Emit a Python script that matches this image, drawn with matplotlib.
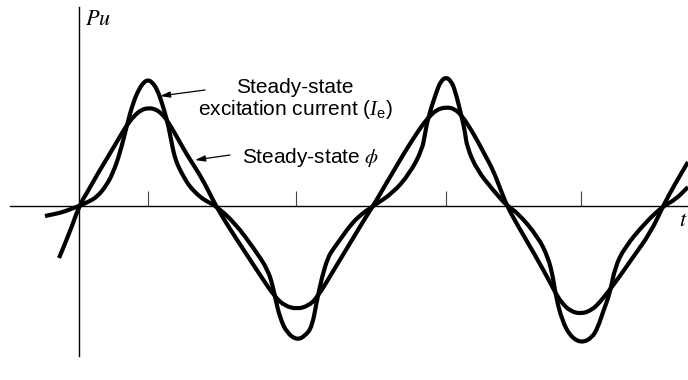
import matplotlib.pyplot as plt
from matplotlib.path import Path
from matplotlib.patches import PathPatch

plt.rcParams['font.family'] = ['Liberation Sans', 'DejaVu Sans']
plt.rcParams['mathtext.fontset'] = 'stix'
plt.rcParams['mathtext.rm'] = 'Liberation Sans'
plt.rcParams['mathtext.it'] = 'Liberation Serif:italic'

# steady-state flux (time offset, amplitude)
flux_t = [-20, -9, 0, 9, 18, 27, 36, 43, 48, 55, 62, 69, 76, 82, 88, 98, 108, 121, 129, 137,
          149, 166, 183, 196, 206, 218, 229, 238, 256, 273, 285, 294,
          304, 314, 324, 334, 342, 349, 357, 367, 376, 383, 391, 398, 406, 414, 421, 428,
          439, 456, 472, 477, 483, 491, 502, 513, 521, 529, 541, 552, 572, 584, 596, 609]
flux_v = [-52, -26, 0, 15, 31, 46, 61, 73, 81, 90, 96, 98, 97, 93, 86, 69, 51, 31, 16, 0,
          -20, -46, -72, -91, -100, -103, -100, -92, -62, -34, -14, 0,
          17, 34, 51, 67, 79, 88, 96, 99, 97, 90, 78, 66, 51, 36, 18, 0,
          -20, -49, -78, -88, -97, -105, -108, -104, -96, -86, -70, -54, -26, 0, 22, 44]

# steady-state excitation current
cur_t = [-34, -24, -16, -8, 0, 9, 18, 27, 34, 41, 48, 54, 60, 65, 69, 73, 78, 83, 88, 91, 94,
         97, 101, 106, 111, 121, 129, 137,
         156, 176, 189, 194, 196, 201, 208, 218, 226, 233, 238, 243, 249, 255, 263, 270, 280, 294,
         314, 331, 343, 346, 349, 358, 362, 367, 372, 376, 383, 386, 388, 398, 414, 428,
         439, 459, 469, 474, 477, 483, 491, 502, 513, 519, 524, 531, 536, 546, 566, 584, 596, 609]
cur_v = [-10, -8, -6, -3, 0, 4, 9, 20, 33, 53, 81, 103, 117, 124, 126, 124, 117, 103, 86, 72, 56,
         45, 36, 27, 19, 9, 4, 0,
         -17, -44, -64, -81, -91, -112, -127, -134, -130, -121, -94, -71, -51, -42, -31, -21, -10, 0,
         13, 33, 56, 72, 88, 116, 125, 129, 125, 116, 88, 74, 59, 36, 16, 0,
         -7, -31, -51, -71, -91, -114, -130, -137, -132, -121, -106, -87, -61, -41, -17, 0, 6, 19]

ticks_t = [69, 217, 367, 502]


def smooth_curve(t, v):
    # quadratic bezier through the midpoints, with each reading as control point
    pts = list(zip(t, v))
    verts = [pts[0]]
    codes = [Path.MOVETO]
    for i in range(1, len(pts) - 1):
        mid = ((pts[i][0] + pts[i + 1][0]) / 2, (pts[i][1] + pts[i + 1][1]) / 2)
        verts += [pts[i], mid]
        codes += [Path.CURVE3, Path.CURVE3]
    verts.append(pts[-1])
    codes.append(Path.LINETO)
    return Path(verts, codes)


fig = plt.figure(figsize=(6.88, 3.80), dpi=100)
ax = fig.add_axes([0, 0, 1, 1])
ax.set_xlim(-79, 609)
ax.set_ylim(-174, 206)

for t, v in [(flux_t, flux_v), (cur_t, cur_v)]:
    ax.add_patch(PathPatch(smooth_curve(t, v), facecolor='none', edgecolor='black',
                           lw=3.0, joinstyle='round', capstyle='butt'))

# axes through the origin
for side in ['top', 'right']:
    ax.spines[side].set_visible(False)
ax.spines['left'].set_position(('data', 0))
ax.spines['bottom'].set_position(('data', 0))
ax.spines['left'].set_bounds(-150, 199)
ax.spines['bottom'].set_bounds(-69, 609)
ax.spines['left'].set_linewidth(1.0)
ax.spines['bottom'].set_linewidth(1.0)
ax.set_yticks([])
ax.set_xticks(ticks_t)
ax.set_xticklabels([])
ax.tick_params(axis='x', direction='in', length=11, width=0.8, color='#444444')

ax.text(6, 181, '$Pu$', fontsize=16, ha='left', va='baseline')
ax.text(600, -20, '$t$', fontsize=16, ha='left', va='baseline')

ax.text(216, 113, 'Steady-state', fontsize=15, ha='center', va='baseline')
ax.text(216, 91, r'excitation current ($I_{\mathrm{e}}$)', fontsize=15, ha='center',
        va='baseline', math_fontfamily='custom')
ax.text(163, 43, r'Steady-state $\phi$', fontsize=15, ha='left', va='baseline')

arrow = dict(arrowstyle='-|>,head_length=0.6,head_width=0.18', color='black', lw=0.9,
             shrinkA=0, shrinkB=0)
ax.annotate('', xy=(81, 110), xytext=(126, 116), arrowprops=arrow)
ax.annotate('', xy=(116, 46), xytext=(151, 51), arrowprops=arrow)

fig.savefig('out.png', dpi=100)
